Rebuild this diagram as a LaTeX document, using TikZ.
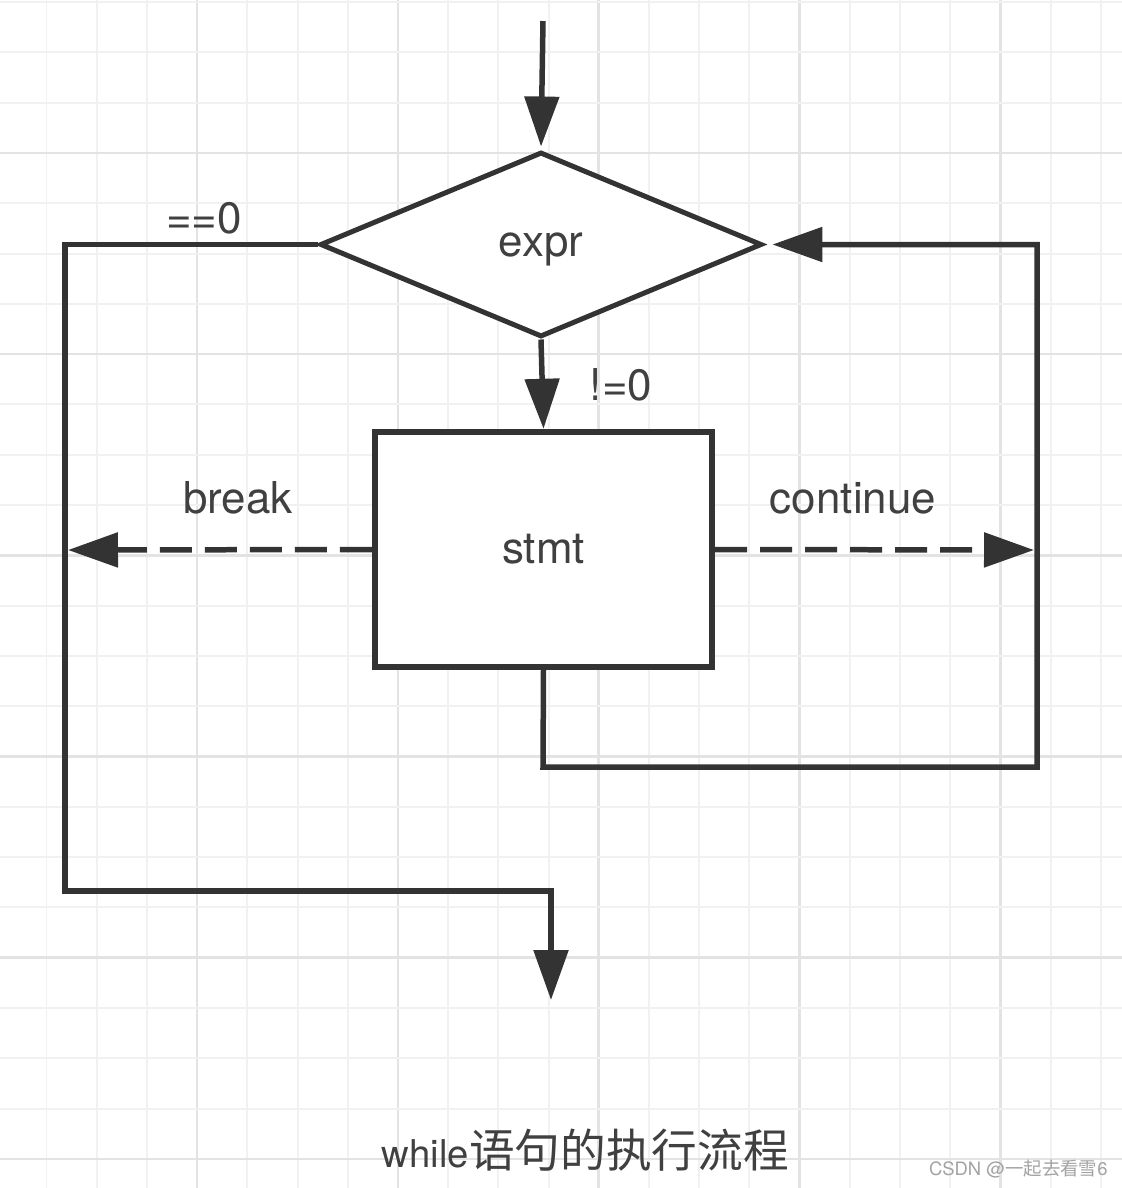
\documentclass[tikz,border=0pt]{standalone}
\usepackage{fontspec}
\setmainfont{TeX Gyre Heros}
\newfontfamily\cjk{Noto Sans CJK SC}
\usetikzlibrary{arrows.meta,shapes.geometric}
\definecolor{ink}{HTML}{333333}
\definecolor{txt}{HTML}{404040}
\definecolor{gminor}{HTML}{F1F1F1}
\definecolor{gmajor}{HTML}{E3E3E3}
\definecolor{wmark}{HTML}{A3A3A3}
\begin{document}
\begin{tikzpicture}[x=0.02cm,y=-0.02cm,
  gridminorline/.style={draw=gminor,line width=0.04cm},
  gridmajorline/.style={draw=gmajor,line width=0.055cm},
  lbl/.style={text=txt,font=\fontsize{25pt}{30pt}\selectfont,inner sep=0pt,anchor=base},
  decision/.style={diamond,draw=ink,fill=white,line width=0.1cm,inner sep=0pt,
    minimum width=8.84cm,minimum height=3.7cm,text depth=0pt,text=txt,
    font=\fontsize{25pt}{30pt}\selectfont},
  stmtbox/.style={rectangle,draw=ink,fill=white,line width=0.13cm,inner sep=0pt,
    minimum width=6.74cm,minimum height=4.7cm,text=txt,
    font=\fontsize{25pt}{30pt}\selectfont},
  flow/.style={draw=ink,line width=0.11cm,line join=miter,
    -{Triangle[length=1.0cm,width=0.68cm]}},
  plainflow/.style={draw=ink,line width=0.11cm,line join=miter},
  dashflow/.style={flow,dash pattern=on 0.64cm off 0.26cm}]
% canvas
\useasboundingbox (0,0) rectangle (1122,1188);
\fill[white] (0,0) rectangle (1122,1188);
% grid
\foreach \k in {0,...,21}{
  \pgfmathsetmacro{\gx}{46.5+50.2*\k}
  \pgfmathtruncatemacro{\ismaj}{mod(\k,4)==3}
  \ifnum\ismaj=1
    \draw[gridmajorline] (\gx,0) -- (\gx,1188);
  \else
    \draw[gridminorline] (\gx,0) -- (\gx,1188);
  \fi
}
\foreach \k in {0,...,23}{
  \pgfmathsetmacro{\gy}{2+50.3*\k}
  \pgfmathtruncatemacro{\ismaj}{mod(\k,4)==3}
  \ifnum\ismaj=1
    \draw[gridmajorline] (0,\gy) -- (1122,\gy);
  \else
    \draw[gridminorline] (0,\gy) -- (1122,\gy);
  \fi
}
% nodes
\node[decision] (expr) at (541,244.5) {expr};
\node[stmtbox] (stmt) at (543.5,549.5) {stmt};
\coordinate (entry) at (543,21);
\coordinate (brk) at (68,550);
\coordinate (cont) at (1034,550);
\coordinate (exitpt) at (551,1000);
% connectors
\draw[flow,shorten >=0.06cm] (entry) -- (expr.north);
\draw[flow] (expr.south) -- (stmt.north);
\draw[plainflow,-{Triangle[length=1.0cm,width=0.68cm]}] (expr.west) -- (65,244.5) -- (65,891) -- (551,891) -- (exitpt);
\draw[dashflow] (stmt.west) -- (brk);
\draw[dashflow] (stmt.east) -- (cont);
\draw[flow,shorten >=0.16cm] (stmt.south) -- (543,767) -- (1037,767) -- (1037,244.5) -- (expr.east);
% labels
\node[lbl] (lzero) at (204,233) {==0};
\node[lbl] (lnzero) at (621,400) {!=0};
\node[lbl] (lbreak) at (238,513) {break};
\node[lbl] (lcont) at (853,513) {continue};
% caption
\node[text=txt,inner sep=0pt,anchor=base] (caption) at (585.5,1167)
  {\fontsize{21.8pt}{26pt}\selectfont while\cjk\fontsize{26pt}{32pt}\selectfont 语句的执行流程};
% watermark
\node[text=wmark,inner sep=0pt,anchor=base east] (wm) at (1108,1175)
  {\fontsize{10.5pt}{12pt}\selectfont CSDN @\cjk 一起去看雪\rmfamily 6};
\end{tikzpicture}
\end{document}
